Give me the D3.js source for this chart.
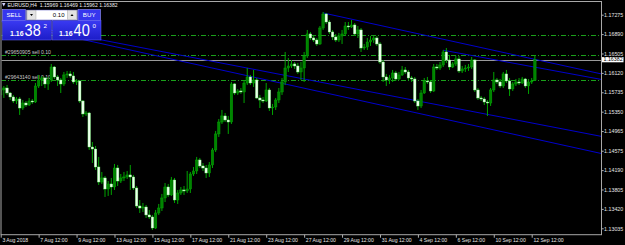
<!DOCTYPE html>
<html><head><meta charset="utf-8">
<script src="https://cdn.jsdelivr.net/npm/d3@7"></script>
<style>html,body{margin:0;padding:0;background:#000;overflow:hidden}svg{display:block}</style>
</head><body><svg id="c" width="625" height="245"></svg>
<script>
const symbolTitle = "EURUSD,H4";
const lastBarText = "1.15969 1.16469 1.15962 1.16382";
const bidPrice = 1.16382;
const opens = [1.15682,1.15781,1.15820,1.15721,1.15642,1.15562,1.15602,1.15423,1.15522,1.15483,1.15562,1.15542,1.15860,1.15979,1.16019,1.15900,1.15979,1.16237,1.16039,1.15979,1.15900,1.16079,1.16099,1.16059,1.15940,1.15959,1.15562,1.15305,1.15324,1.14649,1.14609,1.14252,1.13954,1.14034,1.13815,1.13915,1.13855,1.14232,1.13974,1.14034,1.14054,1.14094,1.14054,1.13835,1.13478,1.13438,1.13458,1.13300,1.13260,1.13041,1.13339,1.13438,1.13637,1.13855,1.13697,1.13994,1.13597,1.13736,1.13796,1.13776,1.13815,1.14113,1.14173,1.14391,1.14272,1.14232,1.14133,1.14292,1.14590,1.14908,1.15145,1.15265,1.15185,1.15145,1.15900,1.15721,1.15761,1.15741,1.15919,1.16039,1.15919,1.15979,1.15622,1.15582,1.15562,1.15781,1.15423,1.15443,1.15582,1.15741,1.15940,1.16217,1.16257,1.16297,1.16257,1.16138,1.16217,1.16456,1.16893,1.16813,1.16773,1.16694,1.17011,1.17289,1.17130,1.16932,1.16833,1.16773,1.16853,1.16893,1.17051,1.17031,1.17071,1.16893,1.16972,1.16614,1.16634,1.16733,1.16773,1.16813,1.16694,1.16336,1.16039,1.15979,1.16019,1.16118,1.15999,1.16079,1.16178,1.16138,1.16019,1.15999,1.15562,1.15463,1.15721,1.15959,1.15940,1.15761,1.16237,1.16217,1.16277,1.16535,1.16376,1.16237,1.16297,1.16396,1.16158,1.16198,1.16217,1.16237,1.16376,1.15781,1.15622,1.15602,1.15542,1.15522,1.15781,1.15979,1.15940,1.15860,1.16099,1.15959,1.15801,1.15900,1.15940,1.15919,1.15999,1.15860,1.15940,1.15969];
const highs = [1.15860,1.15860,1.15880,1.15741,1.15682,1.15642,1.15642,1.15582,1.15562,1.15622,1.15602,1.15919,1.16079,1.16059,1.16039,1.16039,1.16297,1.16257,1.16079,1.16019,1.16138,1.16158,1.16158,1.16138,1.15999,1.15979,1.15582,1.15364,1.15344,1.14748,1.14669,1.14451,1.14153,1.14074,1.13974,1.14034,1.14312,1.14292,1.14113,1.14153,1.14173,1.14292,1.14094,1.13875,1.13597,1.13537,1.13498,1.13399,1.13300,1.13399,1.13518,1.13717,1.13934,1.13915,1.14054,1.14034,1.13796,1.13855,1.13875,1.14173,1.14153,1.14252,1.14451,1.14431,1.14331,1.14292,1.14351,1.14629,1.14967,1.15205,1.15384,1.15324,1.15265,1.15940,1.15919,1.15801,1.15820,1.15979,1.16217,1.16079,1.16178,1.16019,1.15682,1.15642,1.15919,1.15820,1.15503,1.15622,1.15820,1.16019,1.16535,1.16416,1.16376,1.16336,1.16317,1.16336,1.16535,1.16972,1.16932,1.16853,1.16813,1.17051,1.17329,1.17309,1.17170,1.16972,1.16893,1.16913,1.16972,1.17130,1.17130,1.17170,1.17110,1.17051,1.17011,1.16694,1.16813,1.16853,1.16853,1.16853,1.16733,1.16376,1.16099,1.16079,1.16178,1.16158,1.16138,1.16257,1.16237,1.16178,1.16059,1.16039,1.15602,1.15781,1.16019,1.16039,1.15979,1.16297,1.16297,1.16336,1.16575,1.16614,1.16476,1.16336,1.16456,1.16456,1.16257,1.16277,1.16297,1.16436,1.16396,1.15820,1.15662,1.15642,1.15582,1.15820,1.16138,1.16019,1.15999,1.16138,1.16178,1.16019,1.15940,1.15999,1.16019,1.16039,1.16019,1.15999,1.16019,1.16469];
const lows = [1.15582,1.15622,1.15682,1.15582,1.15522,1.15503,1.15285,1.15384,1.15443,1.15463,1.15503,1.15522,1.15820,1.15860,1.15820,1.15781,1.15940,1.15999,1.15860,1.15721,1.15860,1.16019,1.16019,1.15900,1.15880,1.15522,1.15245,1.15265,1.14590,1.14331,1.14193,1.13895,1.13915,1.13657,1.13677,1.13697,1.13796,1.13875,1.13934,1.13974,1.14014,1.13796,1.13796,1.13438,1.13339,1.13359,1.13240,1.13220,1.13002,1.13022,1.13300,1.13379,1.13557,1.13657,1.13677,1.13537,1.13518,1.13697,1.13697,1.13736,1.13736,1.14074,1.14113,1.14232,1.14173,1.14034,1.14054,1.14232,1.14550,1.14848,1.15106,1.15145,1.14908,1.15106,1.15682,1.15682,1.15702,1.15522,1.15880,1.15880,1.15840,1.15602,1.15423,1.15522,1.15542,1.15364,1.15285,1.15384,1.15522,1.15682,1.15880,1.16138,1.16217,1.16198,1.16099,1.15979,1.15940,1.16416,1.16773,1.16733,1.16654,1.16674,1.16972,1.17091,1.16893,1.16773,1.16733,1.16733,1.16694,1.16853,1.16972,1.17011,1.16853,1.16813,1.16535,1.16575,1.16575,1.16654,1.16714,1.16654,1.16297,1.15940,1.15860,1.15900,1.15940,1.15959,1.15979,1.16059,1.16099,1.15979,1.15940,1.15522,1.15384,1.15423,1.15702,1.15900,1.15721,1.15741,1.16178,1.16178,1.16237,1.16317,1.16178,1.16217,1.16257,1.16118,1.16118,1.16138,1.16158,1.16198,1.15741,1.15582,1.15562,1.15483,1.15265,1.15463,1.15741,1.15900,1.15820,1.15820,1.15919,1.15662,1.15761,1.15860,1.15880,1.15900,1.15820,1.15702,1.15900,1.15962];
const closes = [1.15781,1.15820,1.15721,1.15642,1.15562,1.15602,1.15423,1.15522,1.15483,1.15562,1.15542,1.15860,1.15979,1.16019,1.15900,1.15979,1.16237,1.16039,1.15979,1.15900,1.16079,1.16099,1.16059,1.15940,1.15959,1.15562,1.15305,1.15324,1.14649,1.14609,1.14252,1.13954,1.14034,1.13815,1.13915,1.13855,1.14232,1.13974,1.14034,1.14054,1.14094,1.14054,1.13835,1.13478,1.13438,1.13458,1.13300,1.13260,1.13041,1.13339,1.13438,1.13637,1.13855,1.13697,1.13994,1.13597,1.13736,1.13796,1.13776,1.13815,1.14113,1.14173,1.14391,1.14272,1.14232,1.14133,1.14292,1.14590,1.14908,1.15145,1.15265,1.15185,1.15145,1.15900,1.15721,1.15761,1.15741,1.15919,1.16039,1.15919,1.15979,1.15622,1.15582,1.15562,1.15781,1.15423,1.15443,1.15582,1.15741,1.15940,1.16217,1.16257,1.16297,1.16257,1.16138,1.16217,1.16456,1.16893,1.16813,1.16773,1.16694,1.17011,1.17289,1.17130,1.16932,1.16833,1.16773,1.16853,1.16893,1.17051,1.17031,1.17071,1.16893,1.16972,1.16614,1.16634,1.16733,1.16773,1.16813,1.16694,1.16336,1.16039,1.15979,1.16019,1.16118,1.15999,1.16079,1.16178,1.16138,1.16019,1.15999,1.15562,1.15463,1.15721,1.15959,1.15940,1.15761,1.16237,1.16217,1.16277,1.16535,1.16376,1.16237,1.16297,1.16396,1.16158,1.16198,1.16217,1.16237,1.16376,1.15781,1.15622,1.15602,1.15542,1.15522,1.15781,1.15979,1.15940,1.15860,1.16099,1.15959,1.15801,1.15900,1.15940,1.15919,1.15999,1.15860,1.15940,1.15959,1.16382];
const priceTicks = [1.17275,1.16890,1.16505,1.16120,1.15735,1.15350,1.14965,1.14575,1.14190,1.13805,1.13420,1.13035];
const timeTickBars = [0,12,24,36,48,60,72,84,96,108,120,132,144,156,168];
const timeTickLabels = ["3 Aug 2018","7 Aug 12:00","9 Aug 12:00","13 Aug 12:00","15 Aug 12:00","17 Aug 12:00","21 Aug 12:00","23 Aug 12:00","27 Aug 12:00","29 Aug 12:00","31 Aug 12:00","4 Sep 12:00","6 Sep 12:00","10 Sep 12:00","12 Sep 12:00"];
const levelPrices = [1.16878,1.16475,1.15973];
const levelLabels = ["","#29650905 sell 0.10","#29643140 sell 0.10"];
// trend lines: [bar0, price0, bar1, price1]
const trendLines = [[0,1.1714,190,1.1452],[0,1.1716,190,1.1486],[102,1.1731,190,1.1610],[140,1.1657,190,1.1599]];
const lotText = "0.10";
const sellQuote = ["1.16","38","2"];
const buyQuote = ["1.16","40","0"];

const W=625,H=245;
const FONT='"Liberation Sans", Arial, sans-serif';
const PL=1, PT=1.5, PR=601.5, PB=234.7;
const x=d3.scaleLinear().domain([0,168]).range([0.7,531.7]);
const y=d3.scaleLinear().domain([1.13035,1.17275]).range([228.3,14.7]);
const svg=d3.select("#c");
svg.append("rect").attr("width",W).attr("height",H).attr("fill","#000");
const defs=svg.append("defs");
defs.append("clipPath").attr("id","clip").append("rect").attr("x",PL+0.5).attr("y",PT+0.5).attr("width",PR-PL-1).attr("height",PB-PT-1);
const gr=defs.append("linearGradient").attr("id","pg").attr("x1",0).attr("y1",0).attr("x2",0).attr("y2",1);
gr.append("stop").attr("offset","0").attr("stop-color","#3a3af2");
gr.append("stop").attr("offset","1").attr("stop-color","#1c1cc8");

const plot=svg.append("g").attr("clip-path","url(#clip)");

// order / level lines
plot.selectAll("line.lvl").data(levelPrices).join("line")
  .attr("x1",PL).attr("x2",PR).attr("y1",d=>Math.round(y(d))+0.5).attr("y2",d=>Math.round(y(d))+0.5)
  .attr("stroke","#1aa01a").attr("stroke-width",1).attr("stroke-dasharray","5,2,1,2");
plot.selectAll("text.lvl").data(levelPrices).join("text")
  .attr("x",5).attr("y",d=>Math.round(y(d))-0.6)
  .attr("fill","#c8c8c8").attr("font-size",5.1).attr("font-family",FONT)
  .text((d,i)=>levelLabels[i]);

// bid line
plot.append("line").attr("x1",PL).attr("x2",PR).attr("y1",Math.round(y(bidPrice))+0.5).attr("y2",Math.round(y(bidPrice))+0.5)
  .attr("stroke","#9a9a9a").attr("stroke-width",1);

// trend lines
plot.selectAll("line.tr").data(trendLines).join("line")
  .attr("x1",d=>x(d[0])).attr("y1",d=>y(d[1])).attr("x2",d=>x(d[2])).attr("y2",d=>y(d[3]))
  .attr("stroke","#0000cc").attr("stroke-width",1);

// candles
const idx=d3.range(closes.length);
plot.selectAll("line.wick").data(idx).join("line")
  .attr("x1",i=>x(i)).attr("x2",i=>x(i)).attr("y1",i=>y(highs[i])).attr("y2",i=>y(lows[i]))
  .attr("stroke","#00a400").attr("stroke-width",1);
plot.selectAll("rect.body").data(idx).join("rect")
  .attr("x",i=>x(i)-1.25).attr("width",2.5)
  .attr("y",i=>y(Math.max(opens[i],closes[i])))
  .attr("height",i=>Math.max(1,Math.abs(y(opens[i])-y(closes[i]))))
  .attr("fill",i=>closes[i]>=opens[i]?"#008400":"#ecffec")
  .attr("stroke",i=>closes[i]>=opens[i]?"#00b000":"#7dff7d").attr("stroke-width",0.4);

// frame
svg.append("rect").attr("x",PL).attr("y",PT).attr("width",PR-PL).attr("height",PB-PT)
  .attr("fill","none").attr("stroke","#a8a8a8").attr("stroke-width",1);

// price axis
const yAxis=d3.axisRight(y).tickValues(priceTicks).tickSize(2.2).tickPadding(0.4).tickFormat(d=>d.toFixed(5));
svg.append("g").attr("transform",`translate(${PR},0)`).call(yAxis).call(g=>{
  g.attr("font-family",FONT).attr("font-size",5.3);
  g.select(".domain").remove();
  g.selectAll("line").attr("stroke","#b0b0b0");
  g.selectAll("text").attr("fill","#e6e6e6");
});
// bid label
const by=y(bidPrice);
svg.append("rect").attr("x",PR+0.5).attr("y",by-2.6).attr("width",21.5).attr("height",5.2).attr("fill","#fff");
svg.append("text").attr("x",PR+2).attr("y",by+1.8).attr("fill","#000").attr("font-size",5.3).attr("font-family",FONT).text(bidPrice.toFixed(5));

// time axis
const xAxis=d3.axisBottom(x).tickValues(timeTickBars).tickSize(3).tickFormat((d,k)=>timeTickLabels[k]);
svg.append("g").attr("transform",`translate(0,${PB})`).call(xAxis).call(g=>{
  g.attr("font-family",FONT).attr("font-size",5.1);
  g.select(".domain").remove();
  g.selectAll("line").attr("stroke","#b0b0b0");
  g.selectAll("text").attr("fill","#e6e6e6").attr("text-anchor","start").attr("x",1.2).attr("y",6.9).attr("dy",0);
});

// header
svg.append("path").attr("d","M2,3 L5.5,3 L3.75,6.5 Z").attr("fill","#d0d0ff");
svg.append("text").attr("x",7.4).attr("y",6.8).attr("fill","#f0f0f0").attr("font-size",5.1).attr("font-family",FONT)
  .attr("xml:space","preserve").text(symbolTitle+"  "+lastBarText);

// one-click trading panel
const p=svg.append("g").attr("font-family",FONT);
p.append("rect").attr("x",2.5).attr("y",9.5).attr("width",23).attr("height",11).attr("fill","#3636ee").attr("stroke","#9a9aff").attr("stroke-width",0.6);
p.append("text").attr("x",14).attr("y",17.2).attr("text-anchor","middle").attr("fill","#fff").attr("font-size",6.2).text("SELL");
p.append("rect").attr("x",78).attr("y",9.5).attr("width",22.5).attr("height",11).attr("fill","#3636ee").attr("stroke","#9a9aff").attr("stroke-width",0.6);
p.append("text").attr("x",89.2).attr("y",17.2).attr("text-anchor","middle").attr("fill","#fff").attr("font-size",6.2).text("BUY");
p.append("rect").attr("x",26.3).attr("y",10).attr("width",51.2).attr("height",10).attr("fill","#fff").attr("stroke","#5050c0").attr("stroke-width",0.5);
p.append("rect").attr("x",27).attr("y",10.7).attr("width",9).attr("height",8.6).attr("fill","#e2e2e2").attr("stroke","#999").attr("stroke-width",0.4);
p.append("rect").attr("x",67.3).attr("y",10.7).attr("width",9.5).attr("height",8.6).attr("fill","#e2e2e2").attr("stroke","#999").attr("stroke-width",0.4);
p.append("path").attr("d","M30,14 L33,14 L31.5,16 Z").attr("fill","#000");
p.append("path").attr("d","M70.5,16 L73.5,16 L72,14 Z").attr("fill","#000");
p.append("text").attr("x",64.5).attr("y",17.1).attr("text-anchor","end").attr("fill","#000").attr("font-size",6).text(lotText);
p.append("rect").attr("x",2.5).attr("y",20.5).attr("width",49).attr("height",19.5).attr("fill","url(#pg)").attr("stroke","#6a6aff").attr("stroke-width",0.5);
p.append("rect").attr("x",52.5).attr("y",20.5).attr("width",48.5).attr("height",19.5).attr("fill","url(#pg)").attr("stroke","#6a6aff").attr("stroke-width",0.5);
function quote(q,x0){
  p.append("text").attr("x",x0).attr("y",36).attr("fill","#fff").attr("font-size",7).attr("font-weight","bold").text(q[0]);
  p.append("text").attr("x",x0+14.6).attr("y",36).attr("fill","#fff").attr("font-size",16.5)
    .attr("textLength",16.2).attr("lengthAdjust","spacingAndGlyphs").text(q[1]);
  p.append("text").attr("x",x0+33.4).attr("y",28).attr("fill","#fff").attr("font-size",6.2).text(q[2]);
}
quote(sellQuote,10);
quote(buyQuote,59);
</script></body></html>
